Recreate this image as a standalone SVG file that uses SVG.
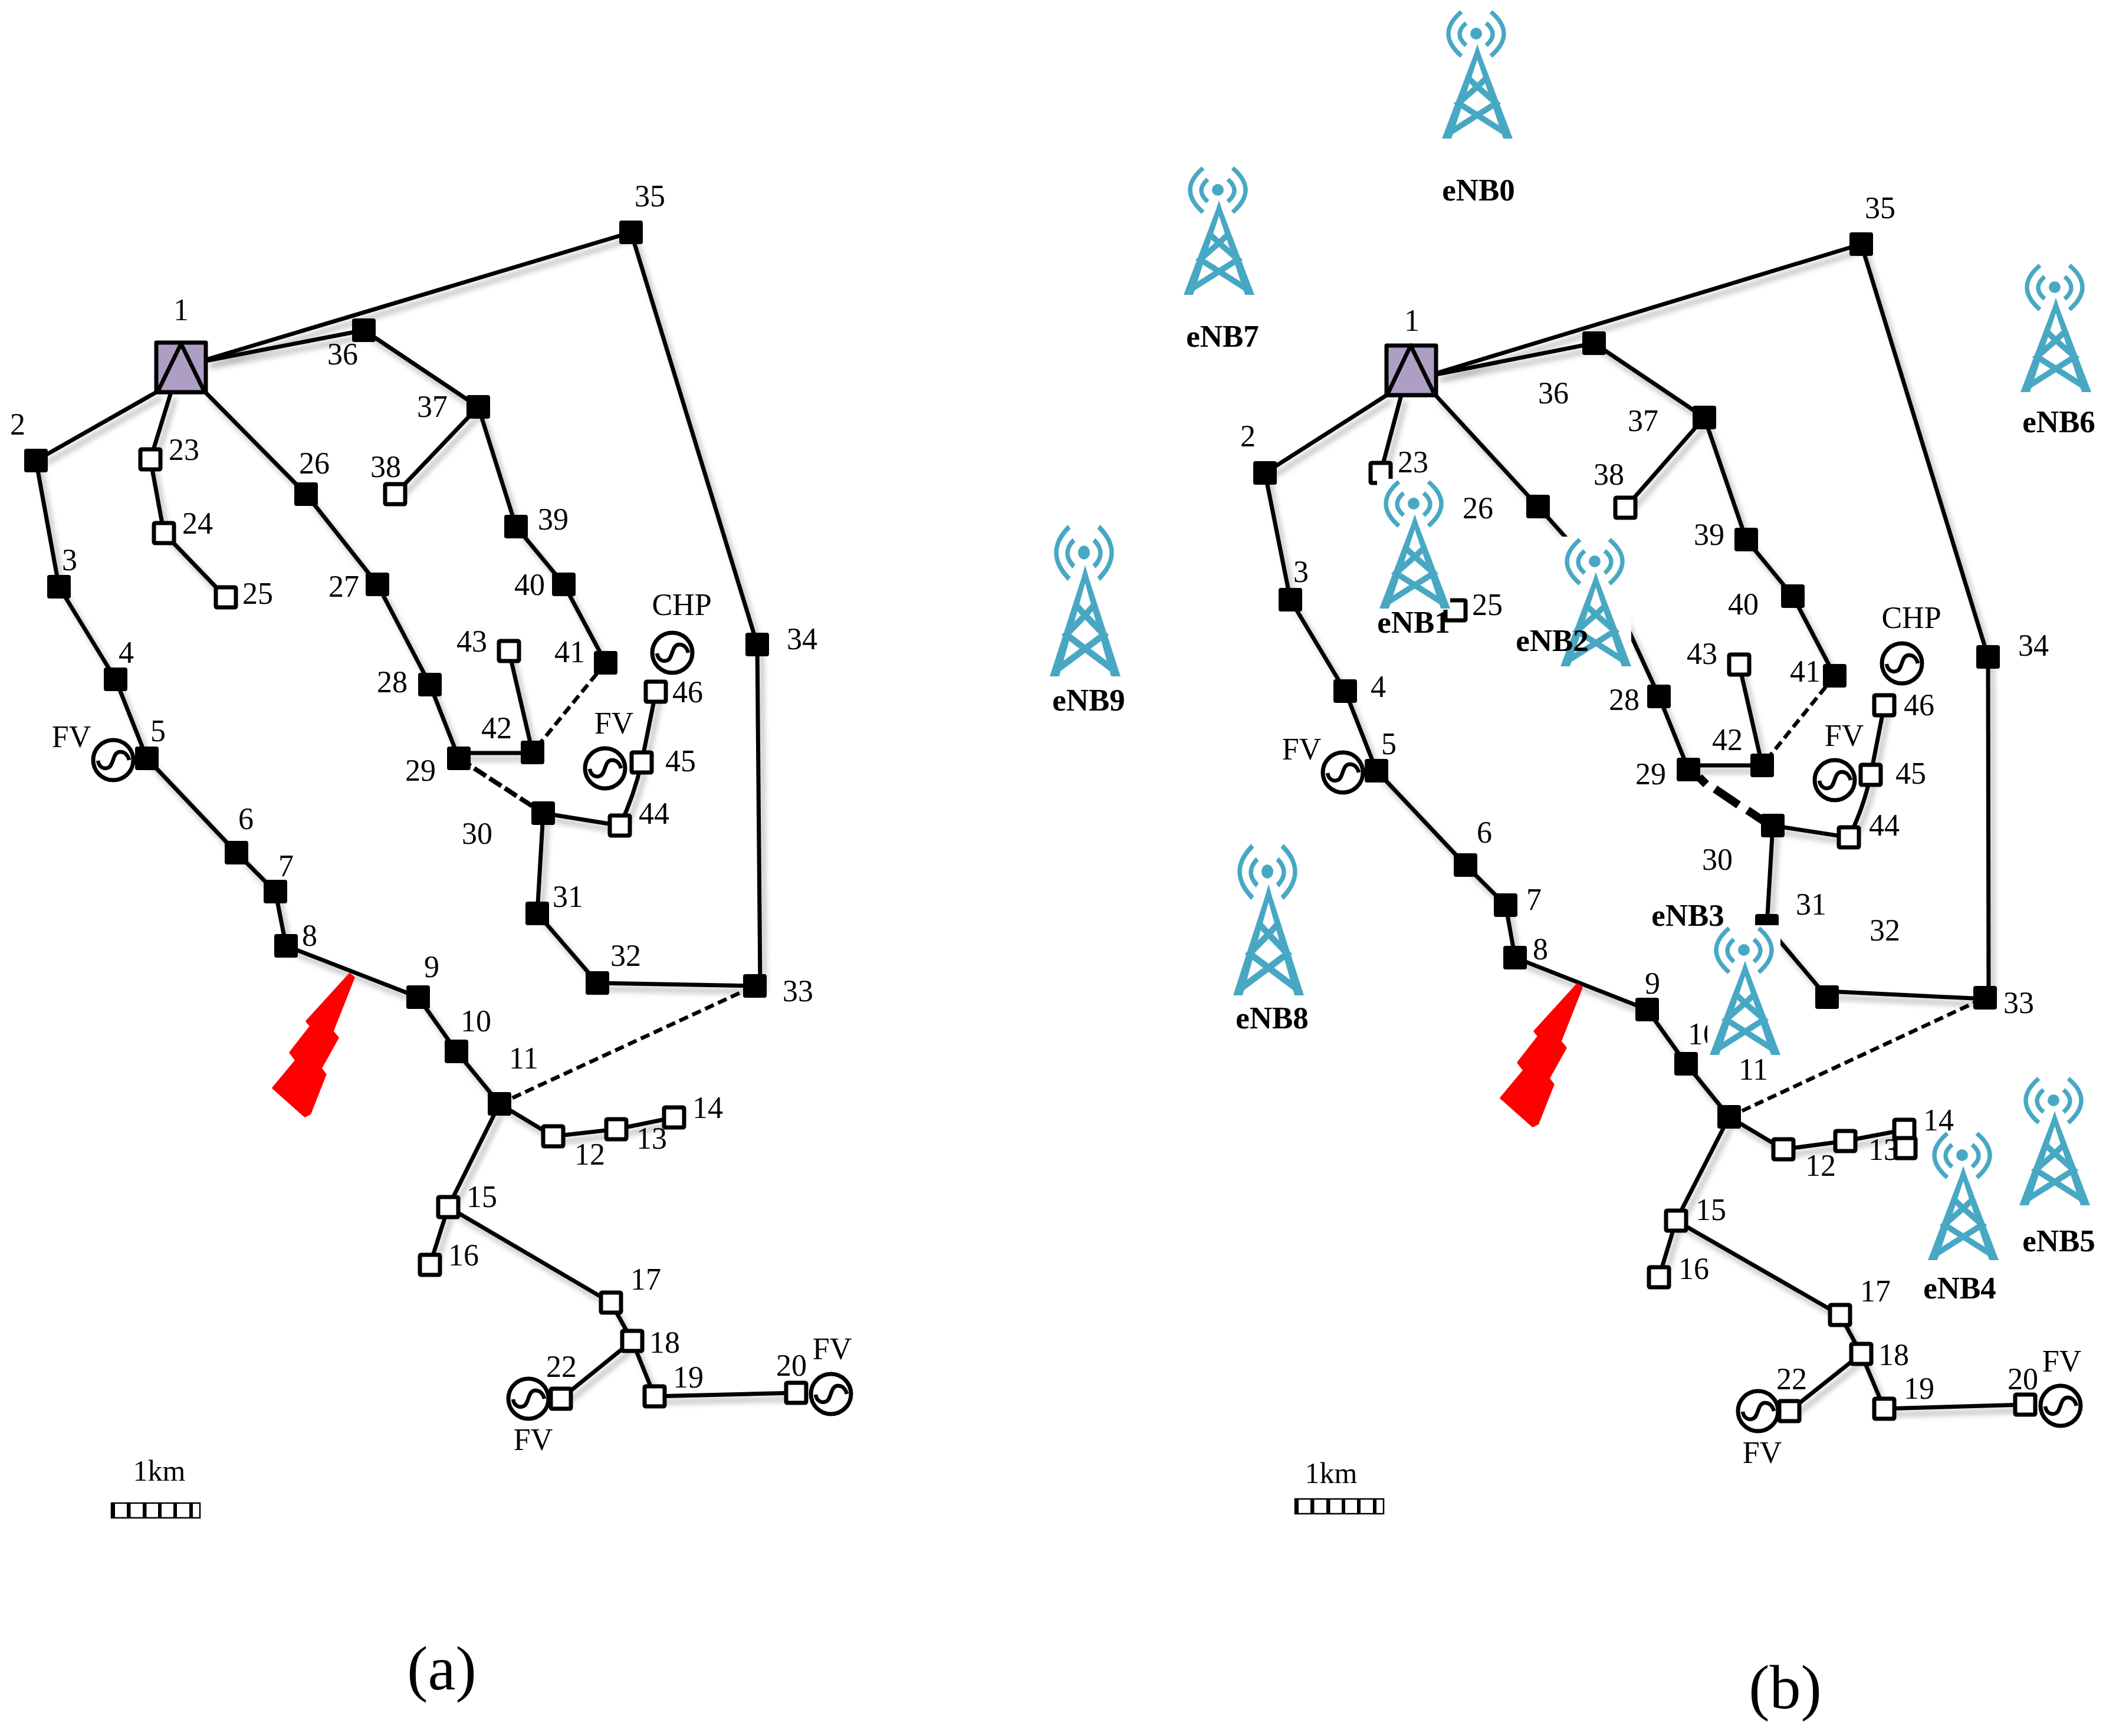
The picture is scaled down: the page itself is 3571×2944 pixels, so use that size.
<svg xmlns="http://www.w3.org/2000/svg" width="3571" height="2944" viewBox="0 0 3571 2944">
<style>
text{font-family:"Liberation Serif","Times New Roman",serif;fill:#000}
.t{font-size:52px;text-anchor:middle}
.km{font-size:50px;text-anchor:middle}
.cap{font-size:106px;text-anchor:middle}
.e{font-size:53px;font-weight:bold;text-anchor:middle}
.l path{fill:none;stroke:#000;stroke-width:7}
.d1{fill:none;stroke:#000;stroke-width:6.5;stroke-dasharray:16 8}
.d2{fill:none;stroke:#000;stroke-width:8;stroke-dasharray:24 7}
.d3{fill:none;stroke:#000;stroke-width:14}
.sq{fill:#ae9ec4;stroke:#000;stroke-width:7;stroke-linejoin:round}
.bolt{fill:#f00;stroke:#f00;stroke-width:5;stroke-linejoin:round}
.tc{fill:none;stroke:#48a8c4}
</style>
<defs>
<filter id="sh" x="-5%" y="-5%" width="110%" height="110%"><feDropShadow dx="7" dy="10" stdDeviation="5" flood-color="#000" flood-opacity=".28"/></filter>
<rect id="f" x="-20" y="-20" width="40" height="40" rx="4"/>
<rect id="o" x="-17" y="-17" width="34" height="34" rx="2" fill="#fff" stroke="#000" stroke-width="7"/>
<g id="gen"><circle r="34" fill="#fff" stroke="#000" stroke-width="7"/><path d="M-26 1C-24 14-14 15-9 13C2 9-2-14 12-14C20-14 25-8 27 0" fill="none" stroke="#000" stroke-width="6.5"/></g>
<g id="tw"><rect x="-62" y="-42" width="124" height="222" fill="#fff"/>
<g class="tc" stroke-width="7.5"><path d="M-25-37Q-69 0-25 38M25-37Q69 0 25 38M-17-18Q-39 1-17 20M17-18Q39 1 17 20"/></g>
<circle r="10" fill="#48a8c4"/>
<path d="M2 18L8 36L62 178H46L2 44L-42 178H-58L-4 36Z" fill="#48a8c4"/>
<g class="tc" stroke-width="10"><path d="M-48 170L34 118L2 90L-15 74M52 170L-30 118L2 90L19 74"/></g>
</g>
<g id="scale"><rect x="1" y="1" width="150" height="25" fill="#fff" stroke="#000" stroke-width="2.5"/><path d="M0 0h7v27h-7zM27 0h6.500v27h-6.500zM54 0h6.500v27h-6.500zM80 0h6v27h-6zM106 0h6v27h-6zM133 0h6v27h-6z"/></g>
</defs>
<rect width="3571" height="2944" fill="#fff"/>

<g id="connectors-a">
<g class="l" filter="url(#sh)">
<path d="M267 664L61 781"/><path d="M290 665L255 779"/><path d="M255 779L278 904"/><path d="M278 904L383 1013"/>
<path d="M347 664L519 838"/><path d="M519 838L640 991"/><path d="M640 991L729 1161"/><path d="M729 1161L778 1286"/><path d="M778 1277L903 1277"/><path d="M903 1276L863 1104"/>
<path d="M349 612L617 560"/><path d="M617 560L811 690"/><path d="M811 690L670 838"/><path d="M811 690L875 893"/><path d="M875 893L956 991"/><path d="M956 991L1027 1124"/>
<path d="M349 610L1070 394"/><path d="M1070 394L1284 1093"/><path d="M1284 1093L1289 1672"/><path d="M1280 1672L1013 1667"/><path d="M1013 1667L911 1549"/><path d="M911 1549L921 1379"/>
<path d="M921 1379L1051 1400"/><path d="M1051 1400Q1075 1350 1088 1293"/><path d="M1088 1293L1112 1173"/>
<path d="M61 781L100 995"/><path d="M100 995L196 1152"/><path d="M196 1152L249 1286"/><path d="M249 1286L401 1446"/><path d="M401 1446L467 1512"/><path d="M467 1512L485 1604"/><path d="M485 1604L709 1691"/><path d="M709 1691L774 1783"/><path d="M774 1783L847 1872"/>
<path d="M847 1872L938 1927"/><path d="M938 1927L1045 1915"/><path d="M1045 1915L1143 1895"/><path d="M847 1872L760 2047"/><path d="M760 2047L729 2145"/><path d="M760 2047L1036 2209"/><path d="M1036 2209L1072 2274"/><path d="M1072 2274L1110 2368"/><path d="M1110 2368L1350 2362"/><path d="M1072 2274L951 2372"/>
</g>
<path class="d1" d="M1027 1124L903 1276"/><path class="d2" d="M778 1286L921 1379"/><path class="d1" d="M847 1872L1280 1672"/>
</g>
<g id="connectors-b">
<g class="l" filter="url(#sh)">
<path d="M2353 669L2145 802"/><path d="M2376 670L2341 802"/>
<path d="M2433 669L2608 859"/><path d="M2608 859L2726 991"/><path d="M2726 991L2813 1181"/><path d="M2813 1181L2863 1305"/><path d="M2863 1298L2988 1298"/><path d="M2988 1298L2949 1127"/>
<path d="M2435 635L2703 582"/><path d="M2703 582L2890 708"/><path d="M2890 708L2756 861"/><path d="M2890 708L2961 915"/><path d="M2961 915L3040 1011"/><path d="M3040 1011L3111 1146"/>
<path d="M2435 633L3156 414"/><path d="M3156 414L3371 1114"/><path d="M3371 1114L3372 1692"/><path d="M3366 1694L3098 1681"/><path d="M3098 1691L2996 1570"/><path d="M2996 1570L3006 1400"/>
<path d="M3006 1400L3135 1420"/><path d="M3135 1420Q3160 1370 3172 1314"/><path d="M3172 1314L3195 1196"/>
<path d="M2145 802L2188 1017"/><path d="M2188 1017L2281 1172"/><path d="M2281 1172L2334 1307"/><path d="M2334 1307L2485 1467"/><path d="M2485 1467L2553 1535"/><path d="M2553 1535L2569 1624"/><path d="M2569 1624L2793 1712"/><path d="M2793 1712L2859 1804"/><path d="M2859 1804L2932 1894"/>
<path d="M2932 1894L3024 1949"/><path d="M3024 1949L3129 1935"/><path d="M3129 1935L3229 1916"/><path d="M2932 1894L2842 2070"/><path d="M2842 2070L2813 2166"/><path d="M2842 2070L3120 2230"/><path d="M3120 2230L3156 2296"/><path d="M3156 2296L3195 2389"/><path d="M3195 2389L3434 2382"/><path d="M3156 2296L3034 2393"/>
</g>
<path class="d1" d="M3111 1146L2988 1298"/><path class="d1" d="M2932 1894L3366 1692"/>
<path class="d3" d="M2881 1318L2893 1330M2908 1338L2948 1365M2963 1374L2990 1392"/>
</g>

<g id="bolt-a"><path class="bolt" d="M593 1653L599 1658L563 1749L572 1760L543 1812L551 1822L525 1888L517 1892L464 1845L503 1798L493 1785L528 1740L521 1732Z"/></g>
<g id="bolt-b" transform="translate(2082,17)"><path class="bolt" d="M593 1653L599 1658L563 1749L572 1760L543 1812L551 1822L525 1888L517 1892L464 1845L503 1798L493 1785L528 1740L521 1732Z"/></g>

<!-- network (a) -->
<g id="a1"><rect class="sq" x="265" y="581" width="84" height="84"/><path class="sq" d="M307 583L267 665H347Z"/><text class="t" x="307" y="543">1</text></g>
<g id="a2"><use href="#f" x="61" y="781"/><text class="t" x="30" y="737">2</text></g>
<g id="a3"><use href="#f" x="100" y="995"/><text class="t" x="118" y="967">3</text></g>
<g id="a4"><use href="#f" x="196" y="1152"/><text class="t" x="214" y="1124">4</text></g>
<g id="a5"><use href="#f" x="249" y="1286"/><text class="t" x="268" y="1257">5</text></g>
<g id="a6"><use href="#f" x="401" y="1446"/><text class="t" x="417" y="1406">6</text></g>
<g id="a7"><use href="#f" x="467" y="1512"/><text class="t" x="485" y="1486">7</text></g>
<g id="a8"><use href="#f" x="485" y="1604"/><text class="t" x="525" y="1604">8</text></g>
<g id="a9"><use href="#f" x="709" y="1691"/><text class="t" x="732" y="1657">9</text></g>
<g id="a10"><use href="#f" x="774" y="1783"/><text class="t" x="807" y="1749">10</text></g>
<g id="a11"><use href="#f" x="847" y="1872"/><text class="t" x="888" y="1812">11</text></g>
<g id="a12"><use href="#o" x="938" y="1927"/><text class="t" x="1000" y="1975">12</text></g>
<g id="a13"><use href="#o" x="1045" y="1915"/><text class="t" x="1105" y="1948">13</text></g>
<g id="a14"><use href="#o" x="1143" y="1895"/><text class="t" x="1200" y="1896">14</text></g>
<g id="a15"><use href="#o" x="760" y="2047"/><text class="t" x="817" y="2047">15</text></g>
<g id="a16"><use href="#o" x="729" y="2145"/><text class="t" x="786" y="2146">16</text></g>
<g id="a17"><use href="#o" x="1036" y="2209"/><text class="t" x="1095" y="2187">17</text></g>
<g id="a18"><use href="#o" x="1072" y="2274"/><text class="t" x="1127" y="2294">18</text></g>
<g id="a19"><use href="#o" x="1110" y="2368"/><text class="t" x="1167" y="2353">19</text></g>
<g id="a20"><use href="#o" x="1350" y="2362"/><text class="t" x="1342" y="2333">20</text></g>
<g id="a22"><use href="#o" x="951" y="2372"/><text class="t" x="952" y="2335">22</text></g>
<g id="a23"><use href="#o" x="255" y="779"/><text class="t" x="312" y="780">23</text></g>
<g id="a24"><use href="#o" x="278" y="904"/><text class="t" x="335" y="905">24</text></g>
<g id="a25"><use href="#o" x="383" y="1013"/><text class="t" x="437" y="1024">25</text></g>
<g id="a26"><use href="#f" x="519" y="838"/><text class="t" x="533" y="803">26</text></g>
<g id="a27"><use href="#f" x="640" y="991"/><text class="t" x="583" y="1012">27</text></g>
<g id="a28"><use href="#f" x="729" y="1161"/><text class="t" x="665" y="1174">28</text></g>
<g id="a29"><use href="#f" x="778" y="1286"/><text class="t" x="713" y="1324">29</text></g>
<g id="a30"><use href="#f" x="921" y="1379"/><text class="t" x="809" y="1431">30</text></g>
<g id="a31"><use href="#f" x="911" y="1549"/><text class="t" x="963" y="1538">31</text></g>
<g id="a32"><use href="#f" x="1013" y="1667"/><text class="t" x="1061" y="1638">32</text></g>
<g id="a33"><use href="#f" x="1280" y="1672"/><text class="t" x="1353" y="1698">33</text></g>
<g id="a34"><use href="#f" x="1284" y="1093"/><text class="t" x="1360" y="1101">34</text></g>
<g id="a35"><use href="#f" x="1070" y="394"/><text class="t" x="1102" y="350">35</text></g>
<g id="a36"><use href="#f" x="617" y="560"/><text class="t" x="581" y="618">36</text></g>
<g id="a37"><use href="#f" x="811" y="690"/><text class="t" x="733" y="707">37</text></g>
<g id="a38"><use href="#o" x="670" y="838"/><text class="t" x="654" y="809">38</text></g>
<g id="a39"><use href="#f" x="875" y="893"/><text class="t" x="938" y="898">39</text></g>
<g id="a40"><use href="#f" x="956" y="991"/><text class="t" x="898" y="1009">40</text></g>
<g id="a41"><use href="#f" x="1027" y="1124"/><text class="t" x="966" y="1123">41</text></g>
<g id="a42"><use href="#f" x="903" y="1276"/><text class="t" x="842" y="1252">42</text></g>
<g id="a43"><use href="#o" x="863" y="1104"/><text class="t" x="800" y="1105">43</text></g>
<g id="a44"><use href="#o" x="1051" y="1400"/><text class="t" x="1109" y="1397">44</text></g>
<g id="a45"><use href="#o" x="1088" y="1293"/><text class="t" x="1154" y="1308">45</text></g>
<g id="a46"><use href="#o" x="1112" y="1173"/><text class="t" x="1166" y="1191">46</text></g>
<g id="a-gen5"><use href="#gen" x="192" y="1289"/><text class="t" x="121" y="1267">FV</text></g>
<g id="a-chp"><use href="#gen" x="1140" y="1107"/><text class="t" x="1156" y="1043">CHP</text></g>
<g id="a-gen45"><use href="#gen" x="1026" y="1303"/><text class="t" x="1041" y="1244">FV</text></g>
<g id="a-gen22"><use href="#gen" x="896" y="2372"/><text class="t" x="904" y="2459">FV</text></g>
<g id="a-gen20"><use href="#gen" x="1409" y="2364"/><text class="t" x="1411" y="2305">FV</text></g>
<g id="a-scale"><text class="km" x="270" y="2511">1km</text><use href="#scale" x="188" y="2548"/></g>
<text class="cap" x="749" y="2865">(a)</text>

<!-- network (b) -->
<g id="b1"><rect class="sq" x="2351" y="586" width="84" height="84"/><path class="sq" d="M2392 586L2352 670H2433Z"/><text class="t" x="2394" y="561">1</text></g>
<g id="b2"><use href="#f" x="2145" y="802"/><text class="t" x="2116" y="757">2</text></g>
<g id="b3"><use href="#f" x="2188" y="1017"/><text class="t" x="2206" y="987">3</text></g>
<g id="b4"><use href="#f" x="2281" y="1172"/><text class="t" x="2337" y="1182">4</text></g>
<g id="b5"><use href="#f" x="2334" y="1307"/><text class="t" x="2355" y="1279">5</text></g>
<g id="b6"><use href="#f" x="2485" y="1467"/><text class="t" x="2517" y="1429">6</text></g>
<g id="b7"><use href="#f" x="2553" y="1535"/><text class="t" x="2601" y="1543">7</text></g>
<g id="b8"><use href="#f" x="2569" y="1624"/><text class="t" x="2612" y="1627">8</text></g>
<g id="b9"><use href="#f" x="2793" y="1712"/><text class="t" x="2802" y="1685">9</text></g>
<g id="b10"><use href="#f" x="2859" y="1804"/><text class="t" x="2888" y="1771">10</text></g>
<g id="b11"><use href="#f" x="2932" y="1894"/><text class="t" x="2973" y="1831">11</text></g>
<g id="b12"><use href="#o" x="3024" y="1949"/><text class="t" x="3087" y="1994">12</text></g>
<g id="b13"><use href="#o" x="3129" y="1935"/><text class="t" x="3194" y="1967">13</text></g>
<g id="b14"><use href="#o" x="3229" y="1916"/><text class="t" x="3287" y="1917">14</text></g>
<g id="b13x"><use href="#o" x="3231" y="1947"/></g>
<g id="b15"><use href="#o" x="2842" y="2070"/><text class="t" x="2901" y="2069">15</text></g>
<g id="b16"><use href="#o" x="2813" y="2166"/><text class="t" x="2872" y="2169">16</text></g>
<g id="b17"><use href="#o" x="3120" y="2230"/><text class="t" x="3180" y="2207">17</text></g>
<g id="b18"><use href="#o" x="3156" y="2296"/><text class="t" x="3211" y="2315">18</text></g>
<g id="b19"><use href="#o" x="3195" y="2389"/><text class="t" x="3254" y="2372">19</text></g>
<g id="b20"><use href="#o" x="3434" y="2382"/><text class="t" x="3430" y="2356">20</text></g>
<g id="b22"><use href="#o" x="3034" y="2393"/><text class="t" x="3038" y="2356">22</text></g>
<g id="b23"><use href="#o" x="2341" y="802"/><text class="t" x="2396" y="801">23</text></g>
<g id="b25"><use href="#o" x="2468" y="1035"/><text class="t" x="2522" y="1043">25</text></g>
<g id="b26"><use href="#f" x="2608" y="859"/><text class="t" x="2506" y="879">26</text></g>
<g id="b28"><use href="#f" x="2813" y="1181"/><text class="t" x="2754" y="1204">28</text></g>
<g id="b29"><use href="#f" x="2863" y="1305"/><text class="t" x="2799" y="1330">29</text></g>
<g id="b30"><use href="#f" x="3006" y="1400"/><text class="t" x="2912" y="1475">30</text></g>
<g id="b31"><use href="#f" x="2996" y="1570"/><text class="t" x="3071" y="1551">31</text></g>
<g id="b32"><use href="#f" x="3098" y="1691"/><text class="t" x="3196" y="1595">32</text></g>
<g id="b33"><use href="#f" x="3366" y="1692"/><text class="t" x="3423" y="1718">33</text></g>
<g id="b34"><use href="#f" x="3371" y="1114"/><text class="t" x="3448" y="1112">34</text></g>
<g id="b35"><use href="#f" x="3156" y="414"/><text class="t" x="3188" y="370">35</text></g>
<g id="b36"><use href="#f" x="2703" y="582"/><text class="t" x="2634" y="684">36</text></g>
<g id="b37"><use href="#f" x="2890" y="708"/><text class="t" x="2786" y="731">37</text></g>
<g id="b38"><use href="#o" x="2756" y="861"/><text class="t" x="2728" y="822">38</text></g>
<g id="b39"><use href="#f" x="2961" y="915"/><text class="t" x="2898" y="924">39</text></g>
<g id="b40"><use href="#f" x="3040" y="1011"/><text class="t" x="2956" y="1042">40</text></g>
<g id="b41"><use href="#f" x="3111" y="1146"/><text class="t" x="3061" y="1156">41</text></g>
<g id="b42"><use href="#f" x="2988" y="1298"/><text class="t" x="2929" y="1272">42</text></g>
<g id="b43"><use href="#o" x="2949" y="1127"/><text class="t" x="2886" y="1126">43</text></g>
<g id="b44"><use href="#o" x="3135" y="1420"/><text class="t" x="3195" y="1417">44</text></g>
<g id="b45"><use href="#o" x="3172" y="1314"/><text class="t" x="3240" y="1329">45</text></g>
<g id="b46"><use href="#o" x="3195" y="1196"/><text class="t" x="3254" y="1213">46</text></g>
<g id="b-gen5"><use href="#gen" x="2277" y="1310"/><text class="t" x="2207" y="1288">FV</text></g>
<g id="b-chp"><use href="#gen" x="3225" y="1125"/><text class="t" x="3241" y="1065">CHP</text></g>
<g id="b-gen45"><use href="#gen" x="3111" y="1323"/><text class="t" x="3127" y="1265">FV</text></g>
<g id="b-gen22"><use href="#gen" x="2981" y="2393"/><text class="t" x="2988" y="2481">FV</text></g>
<g id="b-gen20"><use href="#gen" x="3494" y="2384"/><text class="t" x="3496" y="2326">FV</text></g>
<g id="b-scale"><text class="km" x="2257" y="2515">1km</text><use href="#scale" x="2195" y="2541"/></g>
<text class="cap" x="3027" y="2897">(b)</text>

<!-- base stations -->
<g id="eNB0"><use href="#tw" x="2503" y="57"/><text class="e" x="2507" y="340">eNB0</text></g>
<g id="eNB1"><use href="#tw" x="2397" y="854"/></g>
<g id="eNB2"><use href="#tw" x="2704" y="952"/></g>
<g id="eNB3"><use href="#tw" x="2957" y="1611"/></g>
<g id="eNB4"><use href="#tw" x="3327" y="1959"/><text class="e" x="3323" y="2202">eNB4</text></g>
<g id="eNB5"><use href="#tw" x="3482" y="1866"/><text class="e" x="3491" y="2122">eNB5</text></g>
<g id="eNB6"><use href="#tw" x="3484" y="487"/><text class="e" x="3491" y="733">eNB6</text></g>
<g id="eNB7"><use href="#tw" x="2065" y="322"/><text class="e" x="2073" y="588">eNB7</text></g>
<g id="eNB8"><use href="#tw" transform="translate(2149,1478) scale(1,1.18)"/><text class="e" x="2157" y="1744">eNB8</text></g>
<g id="eNB9"><use href="#tw" transform="translate(1838,937) scale(1,1.18)"/><text class="e" x="1846" y="1205">eNB9</text></g>
<text class="e" x="2397" y="1073">eNB1</text>
<text class="e" x="2632" y="1104">eNB2</text>
<text class="e" x="2862" y="1570">eNB3</text>
</svg>
